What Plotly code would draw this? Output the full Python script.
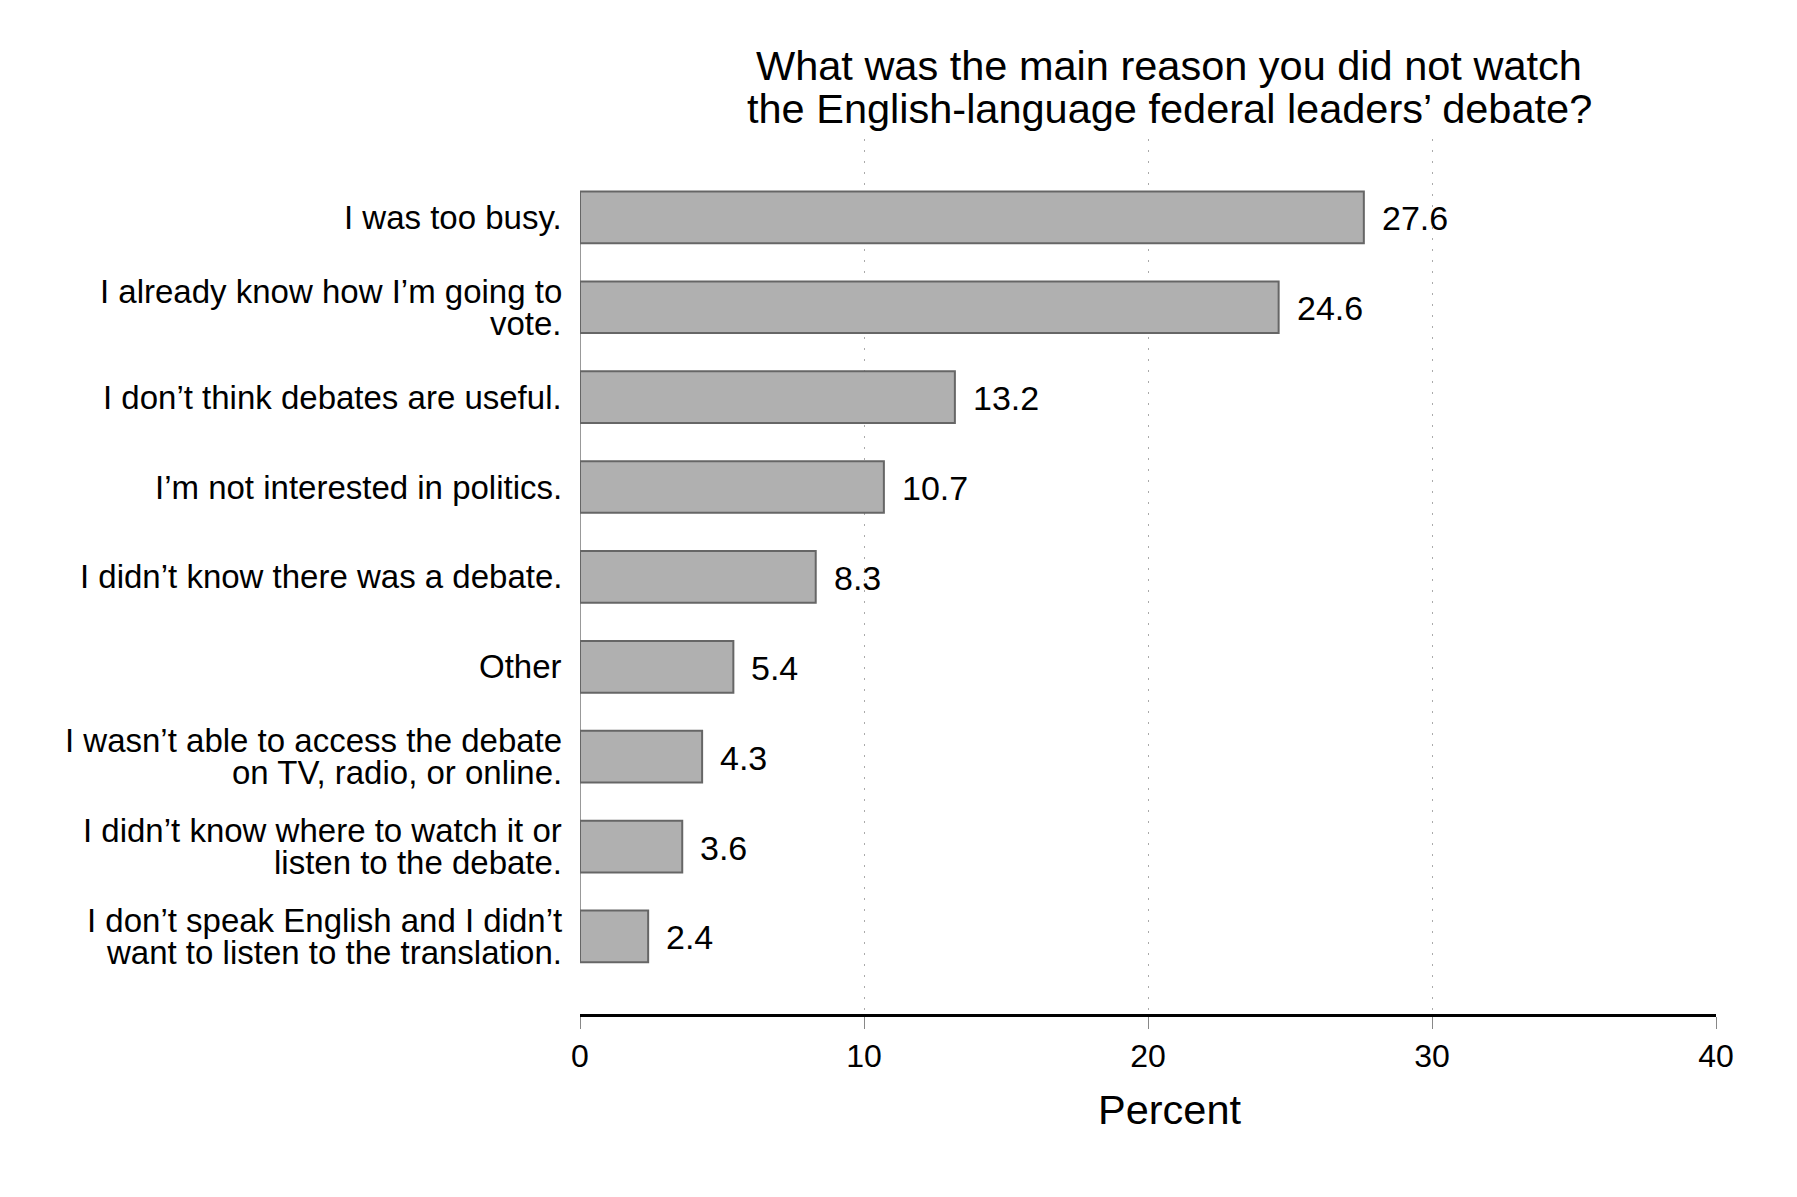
import plotly.graph_objects as go

# survey answers, top to bottom
reasons = [
    "I was too busy.",
    "I already know how I\u2019m going to<br>vote.",
    "I don\u2019t think debates are useful.",
    "I\u2019m not interested in politics.",
    "I didn\u2019t know there was a debate.",
    "Other",
    "I wasn\u2019t able to access the debate<br>on TV, radio, or online.",
    "I didn\u2019t know where to watch it or<br>listen to the debate.",
    "I don\u2019t speak English and I didn\u2019t<br>want to listen to the translation.",
]
percent = [27.6, 24.6, 13.2, 10.7, 8.3, 5.4, 4.3, 3.6, 2.4]
x_ticks = [0, 10, 20, 30, 40]

title_lines = [
    "What was the main reason you did not watch",
    "the English-language federal leaders\u2019 debate?",
]

FONT = "Liberation Sans, Arial, Helvetica, sans-serif"
bar_w = 0.575
pos = list(range(len(reasons)))

fig = go.Figure()
fig.add_trace(go.Bar(
    y=pos, x=percent,
    orientation="h",
    width=bar_w,
    marker=dict(color="#b0b0b0", line=dict(color="#666666", width=2)),
    hoverinfo="x",
))

annotations = []
# category labels, one annotation per line to keep the tight line spacing
for i, lab in enumerate(reasons):
    lines = lab.split("<br>")
    n = len(lines)
    for k, ln in enumerate(lines):
        annotations.append(dict(
            x=0, y=i, xref="x", yref="y",
            text=ln, showarrow=False,
            xanchor="right", yanchor="middle",
            xshift=-16, yshift=(n - 1) * 16 - k * 32,
            font=dict(family=FONT, size=33, color="black"),
        ))
# value labels
for i, v in enumerate(percent):
    annotations.append(dict(
        x=v, y=i, xref="x", yref="y",
        text=f"{v:.1f}", showarrow=False,
        xanchor="left", yanchor="middle",
        xshift=16, yshift=-1,
        font=dict(family=FONT, size=34, color="black"),
    ))
# title
for k, ln in enumerate(title_lines):
    annotations.append(dict(
        x=0.5185, y=1.084 - k * 0.0486, xref="paper", yref="paper",
        text=ln, showarrow=False,
        xanchor="center", yanchor="middle",
        font=dict(family=FONT, size=41.5, color="black"),
    ))
annotations.append(dict(
    x=0.5185, y=-0.1086, xref="paper", yref="paper",
    text="Percent", showarrow=False,
    xanchor="center", yanchor="middle",
    font=dict(family=FONT, size=41.5, color="black"),
))

fig.update_layout(
    width=1797, height=1197,
    margin=dict(l=572, r=89, t=131, b=191),
    paper_bgcolor="white", plot_bgcolor="white",
    showlegend=False,
    annotations=annotations,
    shapes=[dict(
        type="line", xref="x", yref="y",
        x0=0, x1=0, y0=-bar_w / 2, y1=len(reasons) - 1 + bar_w / 2,
        line=dict(color="#999999", width=2),
        layer="below",
    )],
    xaxis=dict(
        range=[0, 40],
        tickvals=x_ticks,
        ticks="outside", ticklen=12, tickwidth=1, tickcolor="#888888",
        tickfont=dict(family=FONT, size=32, color="black"),
        showline=True, linecolor="black", linewidth=2.5,
        showgrid=True, gridcolor="#aaaaaa", gridwidth=1, griddash="2px,9px",
        zeroline=False,
    ),
    yaxis=dict(
        range=[len(reasons) - 1 + 0.863, -0.872],
        showticklabels=False, ticks="",
        showgrid=False, zeroline=False, showline=False,
    ),
)

fig.write_html("out.html")
